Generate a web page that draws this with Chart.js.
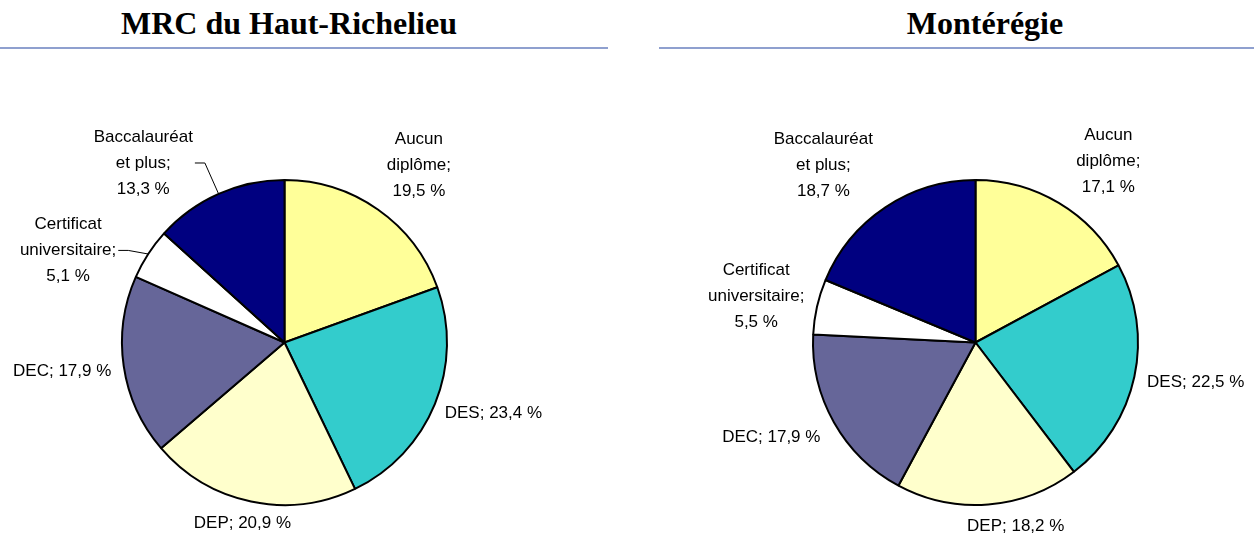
<!DOCTYPE html>
<html>
<head>
<meta charset="utf-8">
<script src="https://cdn.jsdelivr.net/npm/chart.js@4"></script>
<style>
    body { margin: 0; background: #fff; }
    #wrap { position: relative; width: 1254px; height: 533px; overflow: hidden; }
    .titre {
        position: absolute; top: 6px; margin: 0;
        font-family: "Liberation Serif", "Times New Roman", serif;
        font-weight: bold; font-size: 32px; line-height: 34px; color: #000;
        white-space: nowrap; transform: translateX(-50%);
    }
    .trait { position: absolute; top: 47px; height: 2px; background: #8fa0cf; }
    canvas { position: absolute; top: 0; }
</style>
</head>
<body>
<div id="wrap">
    <div class="titre" style="left:289px">MRC du Haut-Richelieu</div>
    <div class="trait" style="left:0; width:608px"></div>
    <div class="titre" style="left:985px">Montérégie</div>
    <div class="trait" style="left:659px; width:595px"></div>
    <canvas id="pieMRC" width="627" height="533" style="left:0"></canvas>
    <canvas id="pieMonteregie" width="627" height="533" style="left:627px"></canvas>
</div>
<script>
    // --- 1. DONNEES (% de la population selon le diplôme) ---
    const categories = [
        ['Aucun', 'diplôme;'],
        ['DES;'],
        ['DEP;'],
        ['DEC;'],
        ['Certificat', 'universitaire;'],
        ['Baccalauréat', 'et plus;']
    ];
    const couleurs = ['#FFFF99', '#33CCCC', '#FFFFCC', '#666699', '#FFFFFF', '#000080'];

    const mrcData = [19.5, 23.4, 20.9, 17.9, 5.1, 13.3];
    const monteregieData = [17.1, 22.5, 18.2, 17.9, 5.5, 18.7];

    // petits decalages des etiquettes (deplacees a la main dans l'original)
    const mrcNudge = [[18, -6], [6, 1], [3, 1], [-5, 2], [-33, 22, true], [-52, 12, true]];
    const monteregieNudge = [[29, -1], [6, 1], [23, 1], [-13, 5], [-6, 0], [-30, -3]];

    // --- 2. PLUGIN ETIQUETTES ---
    const fmt = v => v.toFixed(1).replace('.', ',') + ' %';

    const pieLabels = {
        id: 'pieLabels',
        afterDraw(chart, args, opts) {
            const ctx = chart.ctx;
            const ds = chart.data.datasets[0];
            const meta = chart.getDatasetMeta(0);
            ctx.save();
            ctx.font = '17px "Liberation Sans", Arial, sans-serif';
            ctx.fillStyle = '#000';
            ctx.textAlign = 'center';
            ctx.textBaseline = 'middle';
            const lh = 26;

            meta.data.forEach((arc, i) => {
                const p = arc.getProps(['x', 'y', 'startAngle', 'endAngle', 'outerRadius'], true);
                const a = (p.startAngle + p.endAngle) / 2;
                const cos = Math.cos(a), sin = Math.sin(a);

                // texte : une seule ligne si la categorie tient sur une ligne
                let lines = categories[i].slice();
                if (lines.length === 1) lines[0] = lines[0] + ' ' + fmt(ds.data[i]);
                else lines.push(fmt(ds.data[i]));

                const w = Math.max(...lines.map(l => ctx.measureText(l).width));
                const h = lines.length * lh;
                const r = p.outerRadius + 8;
                const nudge = opts.nudge[i] || [0, 0];
                const cx = p.x + r * cos + (w / 2) * cos + nudge[0];
                const cy = p.y + r * sin + (h / 2) * sin + nudge[1];

                lines.forEach((l, k) => {
                    ctx.fillText(l, cx, cy - h / 2 + lh / 2 + k * lh);
                });

                // trait de rappel
                if (nudge[2]) {
                    const sx = cx + w / 2 + 2;
                    ctx.beginPath();
                    ctx.strokeStyle = '#000';
                    ctx.lineWidth = 1;
                    ctx.moveTo(sx, cy);
                    ctx.lineTo(sx + 10, cy);
                    ctx.lineTo(p.x + p.outerRadius * cos, p.y + p.outerRadius * sin);
                    ctx.stroke();
                }
            });
            ctx.restore();
        }
    };

    // --- 3. GRAPHIQUES ---
    function makePie(id, data, padding, nudge) {
        return new Chart(document.getElementById(id), {
            type: 'pie',
            data: {
                labels: categories.map(c => c.join(' ').replace(';', '')),
                datasets: [{
                    data: data,
                    backgroundColor: couleurs,
                    borderColor: '#000',
                    borderWidth: 2
                }]
            },
            options: {
                responsive: false,
                animation: false,
                devicePixelRatio: 1,
                layout: { padding: padding },
                plugins: {
                    legend: { display: false },
                    tooltip: { enabled: false },
                    pieLabels: { nudge: nudge }
                }
            },
            plugins: [pieLabels]
        });
    }

    makePie('pieMRC', mrcData, { top: 179, bottom: 27, left: 121, right: 179 }, mrcNudge);
    makePie('pieMonteregie', monteregieData, { top: 179, bottom: 27, left: 185, right: 115 }, monteregieNudge);
</script>
</body>
</html>
